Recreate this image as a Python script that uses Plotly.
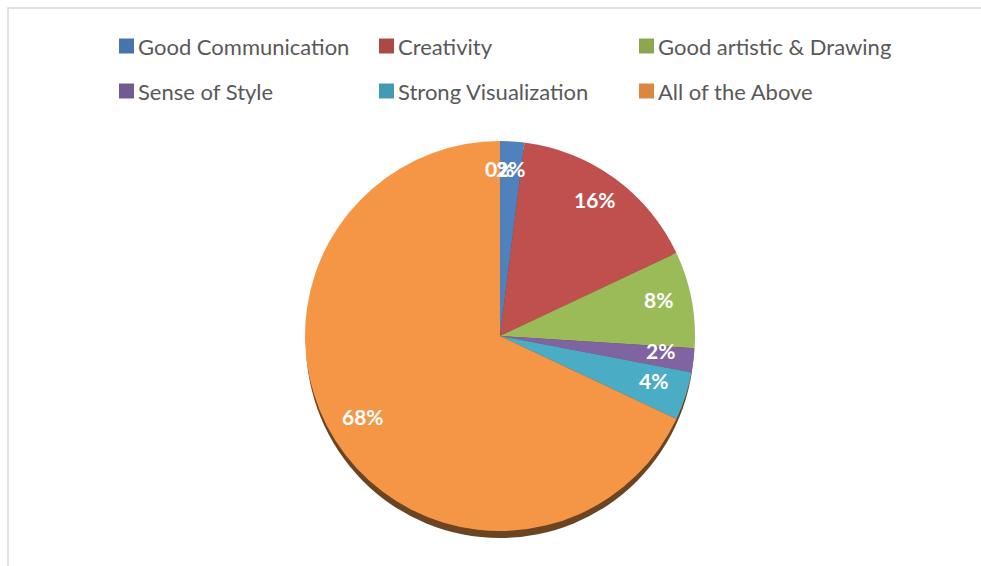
import math
import plotly.graph_objects as go

# Survey answers, in clockwise order from 12 o'clock
categories = ["Good Communication", "Creativity", "Good artistic & Drawing",
              "Sense of Style", "Strong Visualization", "All of the Above", ""]
values = [2, 16, 8, 2, 4, 68, 0]
colors = ["#4F81BD", "#C0504D", "#9BBB59", "#8064A2", "#4BACC6", "#F59647", "#FFFFFF"]

W, H = 981, 566
CX, CY, R = 500, 336, 195          # pie centre / radius in pixels (top-left origin)
LABEL_R = 0.83                      # data labels sit at this fraction of the radius
LABEL_DY = -6                       # labels follow the tilted top face, a little higher


def px(x):
    return x / W


def py(y):
    return 1 - y / H


def darker(hex_col, f=0.9):
    h = hex_col.lstrip("#")
    r, g, b = (int(h[i:i + 2], 16) for i in (0, 2, 4))
    return "#%02X%02X%02X" % (int(r * f), int(g * f), int(b * f))


fig = go.Figure()
fig.add_trace(go.Pie(
    labels=categories,
    values=values,
    sort=False,
    direction="clockwise",
    rotation=0,
    marker=dict(colors=colors, line=dict(width=0)),
    textinfo="none",
    hoverinfo="label+percent",
    showlegend=False,
    domain=dict(x=[px(CX - R), px(CX + R)], y=[py(CY + R), py(CY - R)]),
))

shapes = []
# chart-area frame
shapes.append(dict(type="rect", xref="paper", yref="paper",
                   x0=px(8), x1=px(W + 20), y0=py(H + 20), y1=py(8),
                   line=dict(color="#D9D9D9", width=1.5), layer="below"))
# depth rim under the pie
shapes.append(dict(type="circle", xref="paper", yref="paper",
                   x0=px(CX - R + 1), x1=px(CX + R - 1),
                   y0=py(CY + R + 7), y1=py(CY - R + 7),
                   fillcolor="#6B4422", line=dict(width=0), layer="below"))

annotations = []
# percentage labels placed at each slice's mid-angle
total = sum(values)
cum = 0
for v in values:
    mid = (cum + v / 2) / total * 2 * math.pi
    cum += v
    lx = CX + LABEL_R * R * math.sin(mid)
    ly = CY + LABEL_DY - LABEL_R * R * math.cos(mid)
    annotations.append(dict(x=px(lx), y=py(ly), xref="paper", yref="paper",
                            text=f"{round(v / total * 100)}%", showarrow=False,
                            font=dict(family="Lato", size=21, color="white", weight="bold"),
                            xanchor="center", yanchor="middle"))

# legend: three columns, two rows
col_x = [119, 379, 639]
row_y = [46, 91]
named = [(c, col) for c, col in zip(categories, colors) if c]
for i, (name, col) in enumerate(named):
    x0 = col_x[i % 3]
    yc = row_y[i // 3]
    shapes.append(dict(type="rect", xref="paper", yref="paper",
                       x0=px(x0), x1=px(x0 + 15), y0=py(yc + 7.5), y1=py(yc - 7.5),
                       fillcolor=darker(col), line=dict(width=0)))
    annotations.append(dict(x=px(x0 + 17), y=py(yc), xref="paper", yref="paper",
                            text=name, showarrow=False, xanchor="left", yanchor="middle",
                            font=dict(family="Lato", size=22, color="#595959")))

fig.update_layout(
    width=W, height=H,
    margin=dict(l=0, r=0, t=0, b=0),
    paper_bgcolor="white",
    plot_bgcolor="white",
    shapes=shapes,
    annotations=annotations,
)

fig.write_html("out.html")
